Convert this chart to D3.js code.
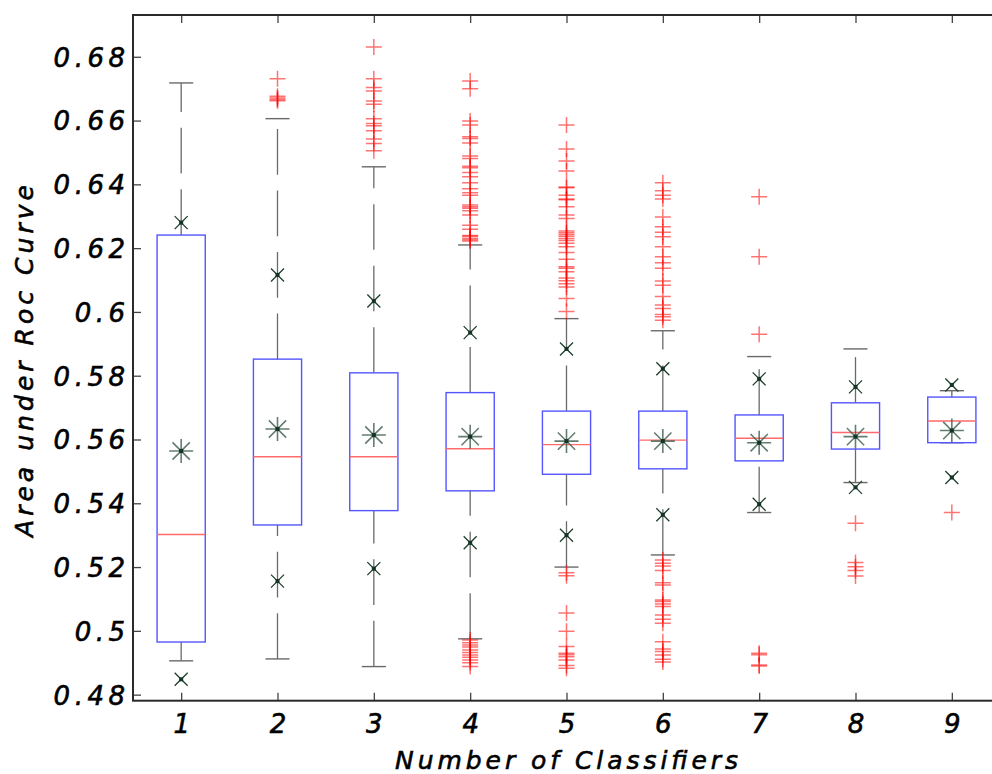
<!DOCTYPE html>
<html>
<head>
<meta charset="utf-8">
<script src="https://cdn.jsdelivr.net/npm/d3@7"></script>
<style>
  html, body { margin: 0; padding: 0; background: #ffffff; }
  svg { display: block; }
  text { font-family: "DejaVu Sans", Verdana, sans-serif; font-style: italic; fill: #000;
         stroke: #000; stroke-width: 0.6px; }
</style>
</head>
<body>
<div id="chart"></div>
<script>
// ---------------- data ----------------
const categories = [1, 2, 3, 4, 5, 6, 7, 8, 9];
const q1Values      = [0.4965, 0.5332, 0.5377, 0.5439, 0.5491, 0.5508, 0.5533, 0.5570, 0.5590];
const medianValues  = [0.5302, 0.5546, 0.5546, 0.5571, 0.5584, 0.5598, 0.5604, 0.5622, 0.5658];
const q3Values      = [0.6241, 0.5852, 0.5809, 0.5747, 0.5689, 0.5689, 0.5677, 0.5715, 0.5733];
const lowerWhisker  = [0.4906, 0.4912, 0.4888, 0.4975, 0.5200, 0.5238, 0.5371, 0.5465, 0.5590];
const upperWhisker  = [0.6718, 0.6606, 0.6455, 0.6210, 0.5979, 0.5941, 0.5860, 0.5884, 0.5753];
const meanValues    = [0.5564, 0.5633, 0.5614, 0.5609, 0.5595, 0.5595, 0.5590, 0.5609, 0.5628];
const upperMarks    = [0.6280, 0.6116, 0.6034, 0.5935, 0.5884, 0.5822, 0.5790, 0.5765, 0.5771];
const lowerMarks    = [0.4848, 0.5156, 0.5195, 0.5276, 0.5300, 0.5364, 0.5397, 0.5450, 0.5481];
const outliers = [
  [],
  [0.6731, 0.6676, 0.6671, 0.6666, 0.6662],
  [0.6831, 0.6731, 0.6704, 0.6693, 0.6661, 0.6651, 0.6606, 0.6591, 0.6584, 0.6568, 0.6542, 0.6528, 0.6505],
  [0.6724, 0.6700, 0.6599, 0.6586, 0.6549, 0.6544, 0.6530, 0.6489, 0.6481, 0.6457, 0.6452, 0.6437, 0.6424,
   0.6405, 0.6386, 0.6374, 0.6366, 0.6335, 0.6330, 0.6325, 0.6317, 0.6304, 0.6272, 0.6259, 0.6240, 0.6237,
   0.6231, 0.6226, 0.6222,
   0.4971, 0.4963, 0.4956, 0.4949, 0.4940, 0.4932, 0.4924, 0.4917, 0.4909, 0.4900, 0.4888],
  [0.6586, 0.6511, 0.6473, 0.6442, 0.6392, 0.6389, 0.6366, 0.6354, 0.6352, 0.6330, 0.6304, 0.6293, 0.6254,
   0.6248, 0.6243, 0.6237, 0.6230, 0.6224, 0.6215, 0.6204, 0.6186, 0.6165, 0.6142, 0.6137, 0.6126, 0.6106,
   0.6098, 0.6088, 0.6078, 0.6042, 0.6001,
   0.5182, 0.5173, 0.5056, 0.4999, 0.4951, 0.4930, 0.4925, 0.4919, 0.4909, 0.4891, 0.4883],
  [0.6405, 0.6380, 0.6366, 0.6354, 0.6298, 0.6267, 0.6250, 0.6236, 0.6204, 0.6173, 0.6154, 0.6137, 0.6097,
   0.6084, 0.6048, 0.6022, 0.6011, 0.5992, 0.5985, 0.5974,
   0.5222, 0.5212, 0.5203, 0.5189, 0.5151, 0.5144, 0.5097, 0.5092, 0.5084, 0.5076, 0.5050, 0.5036, 0.5024,
   0.4966, 0.4943, 0.4935, 0.4924, 0.4911, 0.4902],
  [0.6361, 0.6173, 0.5930, 0.4930, 0.4925, 0.4893, 0.4890],
  [0.5337, 0.5214, 0.5201, 0.5189, 0.5172],
  [0.5371]
];
const yTickValues = [0.48, 0.50, 0.52, 0.54, 0.56, 0.58, 0.60, 0.62, 0.64, 0.66, 0.68];
const yTickLabels = ["0.48", "0.5", "0.52", "0.54", "0.56", "0.58", "0.6", "0.62", "0.64", "0.66", "0.68"];
const xTickLabels = ["1", "2", "3", "4", "5", "6", "7", "8", "9"];
const xAxisTitle = "Number of Classifiers";
const yAxisTitle = "Area under Roc Curve";

// ---------------- layout ----------------
const W = 992, H = 774;
const plot = { left: 133, right: 1000, top: 15, bottom: 700.7 };

const svg = d3.select("#chart").append("svg").attr("width", W).attr("height", H);

const x = d3.scaleLinear().domain([0.5, 9.5]).range([plot.left, plot.right]);
const y = d3.scaleLinear().domain([0.4781, 0.6931]).range([plot.bottom, plot.top]);

const boxHalf = x(0.25) - x(0);
const capHalf = x(0.125) - x(0);

const rows = categories.map((c, i) => ({
  c, q1: q1Values[i], med: medianValues[i], q3: q3Values[i],
  lw: lowerWhisker[i], uw: upperWhisker[i], mean: meanValues[i],
  hi: upperMarks[i], lo: lowerMarks[i], out: outliers[i]
}));

const tickColor = "#444";
// left axis
const yAxisL = d3.axisLeft(y).tickValues(yTickValues)
  .tickFormat((d, i) => yTickLabels[i]).tickSize(-8).tickPadding(8);
const gL = svg.append("g").attr("transform", `translate(${plot.left},0)`).call(yAxisL);
// right axis (ticks only)
const gR = svg.append("g").attr("transform", `translate(${plot.right},0)`)
  .call(d3.axisRight(y).tickValues(yTickValues).tickFormat("").tickSize(-8));
// bottom axis
const xAxisB = d3.axisBottom(x).tickValues(categories)
  .tickFormat((d, i) => xTickLabels[i]).tickSize(-8).tickPadding(14);
const gB = svg.append("g").attr("transform", `translate(0,${plot.bottom})`).call(xAxisB);
// top axis (ticks only)
const gT = svg.append("g").attr("transform", `translate(0,${plot.top})`)
  .call(d3.axisTop(x).tickValues(categories).tickFormat("").tickSize(-8));

[gL, gR, gB, gT].forEach(g => {
  g.select(".domain").remove();
  g.selectAll(".tick line").attr("stroke", tickColor).attr("stroke-width", 1.3);
});
gL.selectAll(".tick text")
  .attr("fill", "#000")
  .style("font-size", "26px").style("letter-spacing", "4.5px")
  .attr("x", -8 + 4.5).attr("dy", "0.36em");
gB.selectAll(".tick text")
  .attr("fill", "#000")
  .style("font-size", "26px").attr("dy", "0.71em").attr("y", 14);

// ---------------- boxes ----------------
const g = svg.append("g");
const whiskerColor = "#6a6a6a";
const dash = "45.7,15.8";

// upper whiskers: drawn from box top upward
g.selectAll(".wu").data(rows).join("line")
  .attr("x1", d => x(d.c)).attr("x2", d => x(d.c))
  .attr("y1", d => y(d.q3)).attr("y2", d => y(d.uw))
  .attr("stroke", whiskerColor).attr("stroke-width", 1.3).attr("stroke-dasharray", dash);
// lower whiskers: drawn from lower cap upward
g.selectAll(".wl").data(rows).join("line")
  .attr("x1", d => x(d.c)).attr("x2", d => x(d.c))
  .attr("y1", d => y(d.lw)).attr("y2", d => y(d.q1))
  .attr("stroke", whiskerColor).attr("stroke-width", 1.3).attr("stroke-dasharray", dash);
// caps
g.selectAll(".cu").data(rows).join("line")
  .attr("x1", d => x(d.c) - capHalf).attr("x2", d => x(d.c) + capHalf)
  .attr("y1", d => y(d.uw)).attr("y2", d => y(d.uw))
  .attr("stroke", whiskerColor).attr("stroke-width", 1.4);
g.selectAll(".cl").data(rows).join("line")
  .attr("x1", d => x(d.c) - capHalf).attr("x2", d => x(d.c) + capHalf)
  .attr("y1", d => y(d.lw)).attr("y2", d => y(d.lw))
  .attr("stroke", whiskerColor).attr("stroke-width", 1.4);
// boxes
g.selectAll(".box").data(rows).join("rect")
  .attr("x", d => x(d.c) - boxHalf).attr("width", 2 * boxHalf)
  .attr("y", d => y(d.q3)).attr("height", d => y(d.q1) - y(d.q3))
  .attr("fill", "none").attr("stroke", "#5555ff").attr("stroke-width", 1.4);
// medians
g.selectAll(".med").data(rows).join("line")
  .attr("x1", d => x(d.c) - boxHalf).attr("x2", d => x(d.c) + boxHalf)
  .attr("y1", d => y(d.med)).attr("y2", d => y(d.med))
  .attr("stroke", "#ff6a6a").attr("stroke-width", 1.4);

// outliers (+)
const outPts = rows.flatMap(d => d.out.map(v => ({ c: d.c, v })));
const ph = 8;
g.selectAll(".out").data(outPts).join("path")
  .attr("d", d => {
    const cx = x(d.c), cy = y(d.v);
    return `M${cx - ph},${cy}H${cx + ph}M${cx},${cy - ph}V${cy + ph}`;
  })
  .attr("stroke", "#ff0000").attr("stroke-opacity", 0.55).attr("stroke-width", 1.5).attr("fill", "none");

// x-marks (upper & lower)
const xm = 6.5;
const markPts = rows.flatMap(d => [{ c: d.c, v: d.hi }, { c: d.c, v: d.lo }]);
const gm = g.selectAll(".xm").data(markPts).join("g")
  .attr("transform", d => `translate(${x(d.c)},${y(d.v)})`);
gm.append("path")
  .attr("d", `M${-xm},${-xm}L${xm},${xm}M${-xm},${xm}L${xm},${-xm}`)
  .attr("stroke", "#1f3f2f").attr("stroke-width", 1.3).attr("fill", "none");
gm.append("rect").attr("x", -2).attr("y", -2).attr("width", 4).attr("height", 4).attr("fill", "#143424");

// asterisks (mean)
const as = 12, ad = as * 0.72;
const ga = g.selectAll(".ast").data(rows).join("g")
  .attr("transform", d => `translate(${x(d.c)},${y(d.mean)})`);
ga.append("path")
  .attr("d", `M${-as},0H${as}M0,${-as}V${as}M${-ad},${-ad}L${ad},${ad}M${-ad},${ad}L${ad},${-ad}`)
  .attr("stroke", "#3d5d4d").attr("stroke-opacity", 0.8).attr("stroke-width", 1.6).attr("fill", "none");
ga.append("rect").attr("x", -2).attr("y", -2).attr("width", 4).attr("height", 4).attr("fill", "#143424");

// frame on top
svg.append("rect")
  .attr("x", plot.left).attr("y", plot.top)
  .attr("width", plot.right - plot.left).attr("height", plot.bottom - plot.top)
  .attr("fill", "none").attr("stroke", "#2a2a2a").attr("stroke-width", 2);

// axis titles
svg.append("text")
  .attr("x", (plot.left + plot.right) / 2).attr("y", 769)
  .attr("text-anchor", "middle").style("font-size", "25px")
  .attr("textLength", 343).attr("lengthAdjust", "spacing")
  .text(xAxisTitle);
svg.append("text")
  .attr("transform", `translate(33,361) rotate(-90)`)
  .attr("text-anchor", "middle").style("font-size", "25px")
  .attr("textLength", 352).attr("lengthAdjust", "spacing")
  .text(yAxisTitle);
</script>
</body>
</html>
